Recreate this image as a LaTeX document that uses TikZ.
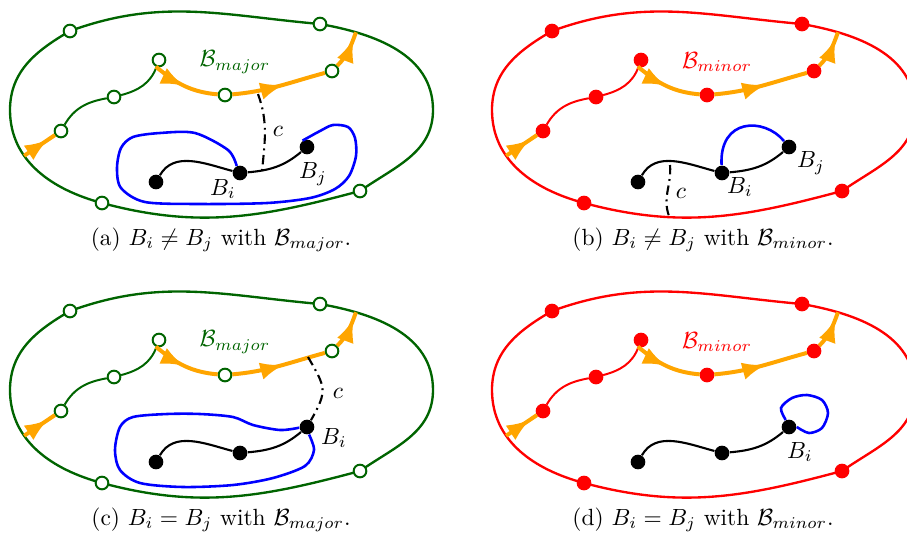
\documentclass[tikz,border=0pt]{standalone}
\usetikzlibrary{arrows.meta,decorations.markings}
\definecolor{bgreen}{RGB}{0,100,0}
\definecolor{borange}{RGB}{255,165,0}
\begin{document}
\begin{tikzpicture}[
x=0.015cm, y=0.015cm,
vtx/.style={circle, draw, line width=0.85pt, inner sep=0pt, minimum size=0.19cm},
blk/.style={circle, fill=black, inner sep=0pt, minimum size=0.22cm},
edge/.style={black, line width=0.9pt},
loopline/.style={blue, line width=1.1pt},
cline/.style={black, line width=0.9pt, dash pattern=on 4pt off 2pt on 0.8pt off 2pt},
walk/.style={borange, line width=1.7pt, postaction={decorate},
  decoration={markings, mark=at position #1 with {\arrow{Latex[length=10pt,width=7.5pt]}}}},
walk/.default=0.55
]

\useasboundingbox (0,0) rectangle (907,-542);

\foreach \dx/\dy/\col/\fil/\nm/\p/\eq in
  {0/0/bgreen/white/major/a/\neq, 482/0/red/red/minor/b/\neq,
   0/-280/bgreen/white/major/c/=, 482/-280/red/red/minor/d/=} {
\begin{scope}[shift={(\dx,\dy)}]

\draw[\col, line width=1pt] (10,-110) to[out=90,in=210] (70,-31)
  to[out=20,in=175] (320,-24)
  to[out=-10,in=90] coordinate[pos=0.22] (out\p) (433,-110)
  to[out=-90,in=35] (360,-191)
  to[out=195,in=-15] (102,-203)
  to[out=165,in=-90] coordinate[pos=0.65] (in\p) (10,-110);

\node[vtx, draw=\col, fill=\fil] (o1\p) at (70,-31) {};
\node[vtx, draw=\col, fill=\fil] (o2\p) at (320,-24) {};
\node[vtx, draw=\col, fill=\fil] (o3\p) at (360,-191) {};
\node[vtx, draw=\col, fill=\fil] (o4\p) at (102,-203) {};

\node[vtx, draw=\col, fill=\fil] (v1\p) at (61,-131) {};
\node[vtx, draw=\col, fill=\fil] (v2\p) at (114,-97) {};
\node[vtx, draw=\col, fill=\fil] (v3\p) at (159,-60) {};
\node[vtx, draw=\col, fill=\fil] (v4\p) at (225,-95) {};
\node[vtx, draw=\col, fill=\fil] (v5\p) at (332,-71) {};

\draw[\col, line width=0.85pt] (v1\p) to[out=60,in=190] (v2\p) to[out=15,in=250] (v3\p);

\draw[walk=0.78] (in\p) -- (v1\p);
\draw[walk=0.5] (v3\p.-115) to[out=-40,in=175] (v4\p);
\draw[walk=0.55] (v4\p) to[out=5,in=195] (v5\p);
\draw[walk=0.82] (v5\p) to[out=45,in=250] (out\p);

\node[text=\col] (lbl\p) at (235,-62) {$\mathcal{B}_{\nm}$};

\node[blk] (k1\p) at (156,-182) {};
\node[blk] (k2\p) at (240,-173) {};
\node[blk] (k3\p) at (307,-147) {};

\draw[edge] (k1\p) to[out=60,in=165] (k2\p) to[out=5,in=220] (k3\p);

\node (cap\p) at (221,-240) {(\p) $B_i \eq B_j$ with $\mathcal{B}_{\nm}$.};

\end{scope}
}

\begin{scope}
\draw[loopline] plot[smooth] coordinates
  {(k2a.115) (228,-150) (195,-133) (160,-133) (133,-137) (121,-148) (117,-168)
   (121,-188) (145,-202) (200,-204) (267,-203) (310,-198) (335,-189) (349,-176)
   (356,-156) (355,-138) (348,-127) (333,-125) (320,-131) (k3a.125)};
\coordinate (ctopa) at (258,-94);
\coordinate (cbota) at (262,-172);
\draw[cline] (ctopa) to[out=-70,in=85] (cbota);
\node (ca) at (278,-131) {$c$};
\node (bia) at (223,-189) {$B_i$};
\node (bja) at (313,-174) {$B_j$};
\end{scope}

\begin{scope}[shift={(482,0)}]
\draw[loopline] (k2b) .. controls +(-3,55) and +(-25,30) .. (k3b);
\coordinate (ctopb) at (188,-165);
\coordinate (cbotb) at (187,-216);
\draw[cline] (ctopb) to[out=-85,in=110] (cbotb);
\node (cb) at (199,-193) {$c$};
\node (bib) at (258,-187) {$B_i$};
\node (bjb) at (329,-163) {$B_j$};
\end{scope}

\begin{scope}[shift={(0,-280)}]
\draw[loopline] plot[smooth] coordinates
  {(k3c.185) (280,-150) (253,-145) (233,-137) (200,-134) (167,-134) (133,-137)
   (120,-147) (115,-170) (120,-190) (140,-203) (183,-207) (233,-205)
   (273,-198) (305,-186) (314,-170) (k3c.-75)};
\coordinate (ctopc) at (308,-77);
\draw[cline] (ctopc) to[out=-60,in=60,looseness=1.4] (k3c);
\node (cc) at (338,-113) {$c$};
\node (bic) at (334,-158) {$B_i$};
\end{scope}

\begin{scope}[shift={(482,-280)}]
\draw[loopline] plot[smooth] coordinates
  {(k3d.115) (299,-128) (310,-118) (325,-115) (340,-120) (346,-133)
   (340,-148) (327,-153) (k3d.0)};
\node (bid) at (318,-172) {$B_i$};
\end{scope}

\end{tikzpicture}
\end{document}
